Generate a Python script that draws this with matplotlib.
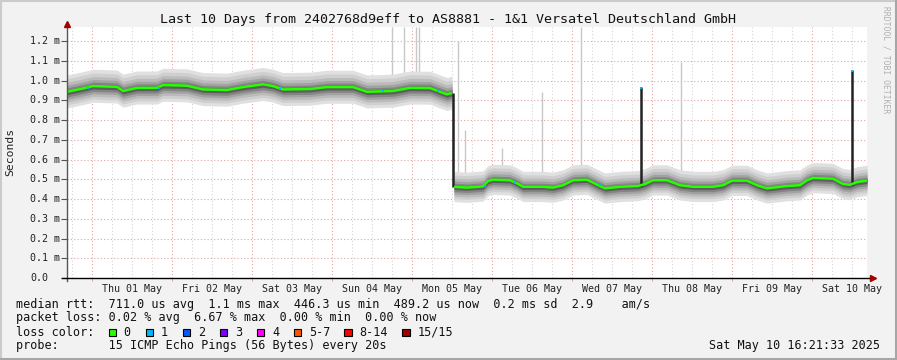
import numpy as np
import matplotlib.pyplot as plt
from matplotlib.patches import Rectangle
from matplotlib.lines import Line2D
from datetime import datetime, timedelta

# time axis: hours since the start of the 10 day window
start = datetime(2025, 4, 30, 16, 21, 33)
end = start + timedelta(days=10)

# median rtt (ms) before the route change on Mon 05 May
hours_a = [0, 4.8, 7.8, 15, 16.8, 21, 27, 28.8, 36, 40.8, 48, 52.8, 58.8, 61.8,
           64.8, 72.9, 78, 85.8, 90, 97.8, 102.9, 108.9, 111.9, 114, 115.5]
median_a = [0.943, 0.960, 0.972, 0.968, 0.947, 0.963, 0.963, 0.977, 0.974, 0.955,
            0.952, 0.967, 0.981, 0.972, 0.955, 0.957, 0.967, 0.967, 0.943, 0.947,
            0.963, 0.962, 0.943, 0.930, 0.937]

# median rtt (ms) after the route change
hours_b = [116.1, 120, 124.8, 126.3, 127.8, 132.9, 135, 136.8, 142.8, 145.8, 148.8,
           151.8, 156, 159, 161.4, 165.9, 171.3, 173.4, 175.8, 180, 183.9, 187.8,
           193.8, 196.8, 199.5, 204, 207, 210, 216, 219.9, 222, 223.8, 229.8,
           232.8, 234.9, 237, 240]
median_b = [0.462, 0.458, 0.464, 0.491, 0.498, 0.495, 0.480, 0.462, 0.462, 0.458,
            0.470, 0.495, 0.498, 0.473, 0.454, 0.462, 0.466, 0.476, 0.495, 0.495,
            0.470, 0.462, 0.462, 0.470, 0.493, 0.493, 0.470, 0.454, 0.466, 0.470,
            0.495, 0.507, 0.503, 0.476, 0.472, 0.486, 0.493]

# smoke layers: (upper offset, lower offset) in ms, light to dark
smoke_colors = ['#e0e0e0', '#cfcfcf', '#bbbbbb', '#a2a2a2', '#848484', '#5e5e5e']
smoke_a = [(0.085, -0.082), (0.066, -0.066), (0.048, -0.052), (0.033, -0.039),
           (0.020, -0.027), (0.010, -0.015)]
smoke_b = [(0.078, -0.075), (0.060, -0.060), (0.044, -0.048), (0.030, -0.036),
           (0.018, -0.025), (0.009, -0.014)]

# single tall outliers in the smoke (hour, base ms, top ms)
spike_hours = [97.5, 101.1, 104.7, 105.6, 117.3, 119.4, 130.5, 142.5, 154.2, 184.2]
spike_bases = [1.00, 1.00, 1.02, 1.02, 0.52, 0.52, 0.55, 0.53, 0.56, 0.52]
spike_tops = [1.27, 1.27, 1.27, 1.27, 1.20, 0.75, 0.66, 0.94, 1.27, 1.095]

# median jumps drawn in dark (hour, from, to)
jump_hours = [115.8, 172.2, 235.5]
jump_from = [0.937, 0.466, 0.472]
jump_to = [0.462, 0.965, 1.053]

# samples with 1 lost ping (blue)
blue_hours = [6.3, 27.6, 63.9, 94.8, 111.3, 125.4, 134.4, 159.9, 172.2, 235.5]
blue_vals = [0.962, 0.963, 0.956, 0.945, 0.945, 0.464, 0.488, 0.471, 0.962, 1.050]

loss_labels = ['0', '1', '2', '3', '4', '5-7', '8-14', '15/15']
loss_colors = ['#26ff00', '#00b8ff', '#0059ff', '#7e00ff', '#ff00ff', '#ff5500', '#ff0000', '#a00000']

yticks = [0.0, 0.1, 0.2, 0.3, 0.4, 0.5, 0.6, 0.7, 0.8, 0.9, 1.0, 1.1, 1.2]

W, H = 897, 360
fig = plt.figure(figsize=(W / 100, H / 100), dpi=100)
fig.patch.set_facecolor('#f2f2f2')
ax = fig.add_axes([67 / W, 82 / H, 800 / W, 251 / H])
ax.set_facecolor('white')
ax.set_xlim(0, 240)
ax.set_ylim(0, 1.271)
for s in ax.spines.values():
    s.set_visible(False)

mono = 'DejaVu Sans Mono'
dot = (0, (1, 2))

# grid
days = [datetime(2025, 5, d) for d in range(1, 11)]
midnights = [(d - start).total_seconds() / 3600 for d in days]
minor = []
t = datetime(2025, 4, 30, 18)
while t < end:
    if t.hour != 0:
        minor.append((t - start).total_seconds() / 3600)
    t += timedelta(hours=6)
for h in minor:
    ax.axvline(h, color='#d4d4d4', lw=0.8, ls=dot, zorder=0)
for h in midnights:
    ax.axvline(h, color='#e3a3a3', lw=0.8, ls=dot, zorder=0)
for v in yticks[1:]:
    ax.axhline(v, color='#e3a3a3', lw=0.8, ls=dot, zorder=0)

# smoke
ax.vlines(spike_hours, spike_bases, spike_tops, color='#c8c8c8', lw=1.0, zorder=1)
for hrs, med, layers in [(hours_a, median_a, smoke_a), (hours_b, median_b, smoke_b)]:
    hrs = np.array(hrs)
    med = np.array(med)
    for (up, dn), c in zip(layers, smoke_colors):
        ax.fill_between(hrs, med + dn, med + up, color=c, lw=0, zorder=1)

ax.vlines(jump_hours, jump_from, jump_to, color='#222222', lw=1.8, zorder=3)

# median
ax.plot(hours_a, median_a, color='#26ff00', lw=1.8, zorder=4, solid_capstyle='butt')
ax.plot(hours_b, median_b, color='#26ff00', lw=1.8, zorder=4, solid_capstyle='butt')
ax.scatter(blue_hours, blue_vals, s=3, marker='s', color='#00b8ff', zorder=5, lw=0)

# axes lines with arrows
ax.plot([0, 0], [-0.012, 1.0], transform=ax.transAxes, color='#555555', lw=1, clip_on=False, zorder=6)
ax.plot([-0.006, 1.004], [0, 0], transform=ax.transAxes, color='black', lw=1, clip_on=False, zorder=6)
ax.plot(1.0075, 0, marker='>', ms=5, color='#a00000', transform=ax.transAxes, clip_on=False, zorder=6)
ax.plot(0, 1.012, marker='^', ms=5, color='#a00000', transform=ax.transAxes, clip_on=False, zorder=6)

# ticks
ax.set_yticks(yticks)
ax.set_yticklabels([])
ax.tick_params(axis='y', length=4, width=0.8, color='#555555')
for v in yticks:
    lab = '0.0' if v == 0 else f'{v:.1f} m'
    xpx = 48 if v == 0 else 60
    ax.text((xpx - 67) / 800, v, lab, transform=ax.get_yaxis_transform(),
            ha='right', va='center', fontsize=7.2, family=mono, color='#222222')
noons = [m + 12 for m in midnights]
ax.set_xticks(midnights)
ax.set_xticklabels([])
ax.tick_params(axis='x', length=2, width=0.8, color='#e3a3a3')
for h, d in zip(noons, days):
    ax.text(h, -0.022, d.strftime('%a %d %b'), transform=ax.get_xaxis_transform(),
            ha='center', va='top', fontsize=7.2, family=mono, color='#222222')

# titles / labels
fig.text(448 / W, 1 - 19 / H, 'Last 10 Days from 2402768d9eff to AS8881 - 1&1 Versatel Deutschland GmbH',
         ha='center', va='center', fontsize=9.6, family=mono, color='#111111')
fig.text(10 / W, 1 - 152 / H, 'Seconds', rotation=90, ha='center', va='center',
         fontsize=8.2, family=mono, color='#222222')
fig.text(886 / W, 1 - 60 / H, 'RRDTOOL / TOBI OETIKER', rotation=270, ha='center', va='center',
         fontsize=5.8, family=mono, color='#b0b0b0')

# legend block
rows = [
    (304.5, 'median rtt:  711.0 us avg  1.1 ms max  446.3 us min  489.2 us now  0.2 ms sd  2.9    am/s'),
    (318.0, 'packet loss: 0.02 % avg  6.67 % max  0.00 % min  0.00 % now'),
    (332.0, 'loss color:'),
    (346.0, 'probe:       15 ICMP Echo Pings (56 Bytes) every 20s'),
]
for y, s in rows:
    fig.text(16 / W, 1 - y / H, s, ha='left', va='center', fontsize=8.45, family=mono, color='#111111')
box_x = [108.7, 145.7, 182.7, 220, 257, 294, 344.3, 402.3]
for bx, c, lab in zip(box_x, loss_colors, loss_labels):
    fig.patches.append(Rectangle((bx / W, 1 - 335.8 / H), 7.3 / W, 7.3 / H, transform=fig.transFigure,
                                 facecolor=c, edgecolor='black', lw=0.8))
    fig.text((bx + 15) / W, 1 - 332 / H, lab, ha='left', va='center', fontsize=8.45, family=mono, color='#111111')
fig.text(880 / W, 1 - 346 / H, 'Sat May 10 16:21:33 2025', ha='right', va='center',
         fontsize=8.45, family=mono, color='#111111')

# frame shading
fig.lines.append(Line2D([0, 1], [1 - 1 / H, 1 - 1 / H], transform=fig.transFigure, color='#cbcbcb', lw=1.5))
fig.lines.append(Line2D([1 / W, 1 / W], [0, 1], transform=fig.transFigure, color='#cbcbcb', lw=1.5))
fig.lines.append(Line2D([0, 1], [1.5 / H, 1.5 / H], transform=fig.transFigure, color='#a6a6a6', lw=2.2))
fig.lines.append(Line2D([1 - 1.5 / W, 1 - 1.5 / W], [0, 1], transform=fig.transFigure, color='#a6a6a6', lw=2.2))

fig.savefig('out.png', dpi=100, facecolor=fig.get_facecolor())
